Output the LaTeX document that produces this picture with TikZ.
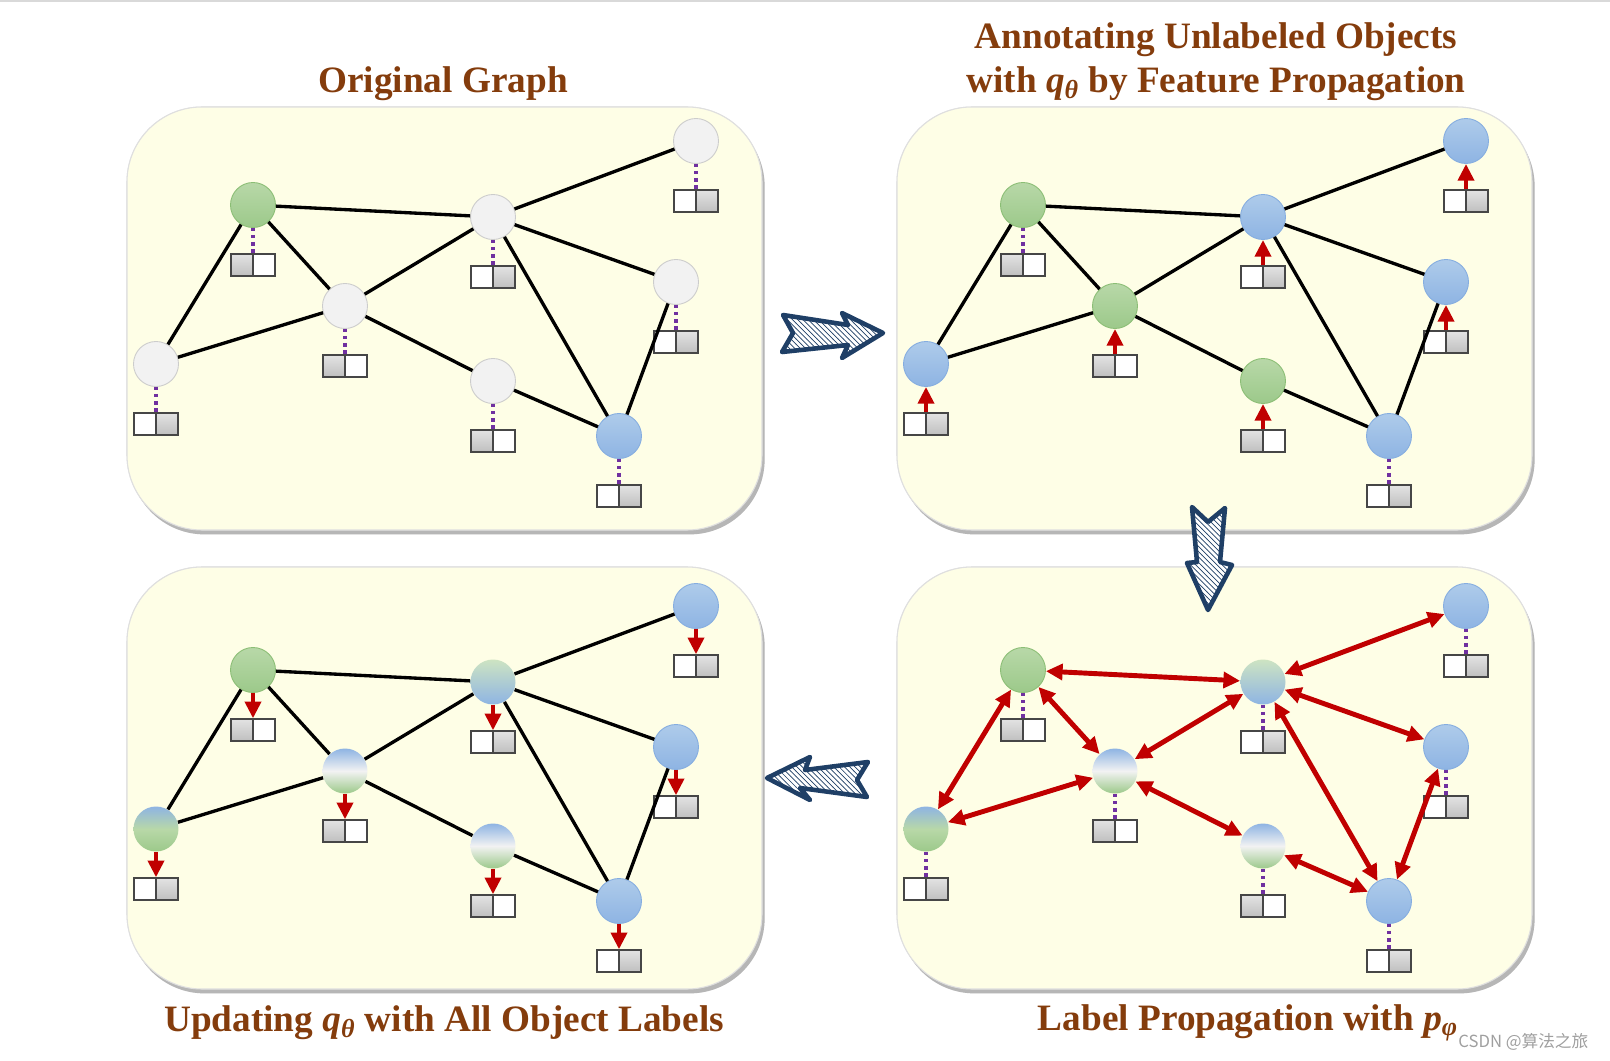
\documentclass[tikz,border=0pt]{standalone}
\usepackage{fontspec}
\setmainfont{Liberation Serif}
\newfontfamily\cjkfont{Noto Sans CJK SC}
\usepackage{tikz}
\usetikzlibrary{arrows.meta,shadows,patterns}

\definecolor{paneyellow}{HTML}{FEFEE6}
\definecolor{titlebrown}{HTML}{843C0C}
\definecolor{navyarrow}{HTML}{1F3F66}
\definecolor{labred}{HTML}{C00000}
\definecolor{dotpurple}{HTML}{7030A0}
\definecolor{grntop}{HTML}{B8D8A8}
\definecolor{grnbot}{HTML}{9CC98A}
\definecolor{grnline}{HTML}{8BBE75}
\definecolor{blutop}{HTML}{AECBEA}
\definecolor{blubot}{HTML}{8EB4E3}
\definecolor{bluline}{HTML}{85ADE0}

\tikzset{
  panel/.style={draw=gray!25, fill=paneyellow, rounded corners=1.5cm, line width=0.6pt,
    drop shadow={shadow xshift=1.5pt, shadow yshift=-2.5pt, opacity=0.35}},
  obj/.style={circle, minimum size=0.9cm, inner sep=0pt, line width=0.5pt},
  grayobj/.style={obj, draw=gray!40, fill=gray!10},
  greenobj/.style={obj, draw=grnline, top color=grntop, bottom color=grnbot},
  blueobj/.style={obj, draw=bluline, top color=blutop, bottom color=blubot},
  mixobj/.style={obj, top color=blubot, bottom color=grnbot, middle color=gray!10},
  skyobj/.style={obj, top color=blubot, bottom color=grnbot, middle color=grntop},
  leafobj/.style={obj, top color=grntop!70!white, bottom color=blubot},
  lbl/.style={minimum width=0.88cm, minimum height=0.44cm, inner sep=0pt,
    draw=gray!55!black, line width=0.8pt, fill=white},
  lblL/.style={lbl, path picture={
    \shade[top color=gray!22, bottom color=gray!50] (path picture bounding box.south west) rectangle (path picture bounding box.north);
    \draw[gray!55!black, line width=0.8pt] (path picture bounding box.south) -- (path picture bounding box.north);}},
  lblR/.style={lbl, path picture={
    \shade[top color=gray!22, bottom color=gray!50] (path picture bounding box.south) rectangle (path picture bounding box.north east);
    \draw[gray!55!black, line width=0.8pt] (path picture bounding box.south) -- (path picture bounding box.north);}},
  graphline/.style={line width=1.9pt},
  tie/.style={dotpurple, line width=2pt, dash pattern=on 2pt off 2pt},
  labarrow/.style={labred, line width=2.8pt, -{Triangle[length=9.5pt,width=9pt]}},
  propag/.style={labred, line width=2.8pt, {Triangle[length=9.5pt,width=9pt]}-{Triangle[length=9.5pt,width=9pt]}},
  bigarrow/.style={draw=navyarrow, line width=2.6pt, line join=round, preaction={fill=white},
    pattern=north west lines, pattern color=navyarrow},
  heading/.style={text=titlebrown, font=\fontsize{21.2}{25}\selectfont\bfseries, align=center},
}

\begin{document}
\begin{tikzpicture}[x=0.02cm,y=-0.02cm]
\useasboundingbox (0,0) rectangle (1610,1061);
\draw[gray!30, line width=1pt] (0,1) -- (1610,1);

\fill[panel] (127,107) rectangle (762,530);
\fill[panel] (897,107) rectangle (1532,530);
\fill[panel] (127,567) rectangle (762,989);
\fill[panel] (897,567) rectangle (1532,989);
\draw[panel] (127,107) rectangle (762,530);
\draw[panel] (897,107) rectangle (1532,530);
\draw[panel] (127,567) rectangle (762,989);
\draw[panel] (897,567) rectangle (1532,989);

\node[heading] (t1) at (443,84) {Original Graph};
\node[heading] (t2) at (1216,62) {Annotating Unlabeled Objects\\with \textit{q}\textsubscript{\textit{θ}} by Feature Propagation};
\node[heading] (t3) at (444,1023) {Updating \textit{q}\textsubscript{\textit{θ}} with All Object Labels};
\node[heading] (t4) at (1248,1023) {Label Propagation with \textit{p}\textsubscript{\textit{φ}}};
\node[text=gray!75, font=\cjkfont\fontsize{9.5}{11}\selectfont, anchor=west, inner sep=0pt] (mark) at (1458,1042) {CSDN @算法之旅};

% original graph
\node[greenobj] (a1) at (253,205) {};
\node[grayobj] (b1) at (493,217) {};
\node[grayobj] (c1) at (696,141) {};
\node[grayobj] (d1) at (345,306) {};
\node[grayobj] (e1) at (676,282) {};
\node[grayobj] (f1) at (156,364) {};
\node[grayobj] (g1) at (493,381) {};
\node[blueobj] (h1) at (619,436) {};
\node[lblL] (a1l) at (253,265) {};
\node[lblR] (b1l) at (493,277) {};
\node[lblR] (c1l) at (696,201) {};
\node[lblL] (d1l) at (345,366) {};
\node[lblR] (e1l) at (676,342) {};
\node[lblR] (f1l) at (156,424) {};
\node[lblL] (g1l) at (493,441) {};
\node[lblR] (h1l) at (619,496) {};
\draw[graphline] (a1) -- (b1) (a1) -- (d1) (a1) -- (f1) (b1) -- (c1) (b1) -- (d1) (b1) -- (e1)
  (b1) -- (h1) (d1) -- (f1) (d1) -- (g1) (g1) -- (h1) (e1) -- (h1);
\draw[tie] (a1) -- (a1l) (b1) -- (b1l) (c1) -- (c1l) (d1) -- (d1l) (e1) -- (e1l) (f1) -- (f1l)
  (g1) -- (g1l) (h1) -- (h1l);

% feature propagation
\begin{scope}[shift={(770,0)}]
\node[greenobj] (a2) at (253,205) {};
\node[blueobj] (b2) at (493,217) {};
\node[blueobj] (c2) at (696,141) {};
\node[greenobj] (d2) at (345,306) {};
\node[blueobj] (e2) at (676,282) {};
\node[blueobj] (f2) at (156,364) {};
\node[greenobj] (g2) at (493,381) {};
\node[blueobj] (h2) at (619,436) {};
\node[lblL] (a2l) at (253,265) {};
\node[lblR] (b2l) at (493,277) {};
\node[lblR] (c2l) at (696,201) {};
\node[lblL] (d2l) at (345,366) {};
\node[lblR] (e2l) at (676,342) {};
\node[lblR] (f2l) at (156,424) {};
\node[lblL] (g2l) at (493,441) {};
\node[lblR] (h2l) at (619,496) {};
\end{scope}
\draw[graphline] (a2) -- (b2) (a2) -- (d2) (a2) -- (f2) (b2) -- (c2) (b2) -- (d2) (b2) -- (e2)
  (b2) -- (h2) (d2) -- (f2) (d2) -- (g2) (g2) -- (h2) (e2) -- (h2);
\draw[tie] (a2) -- (a2l) (h2) -- (h2l);
\draw[labarrow] (b2l) -- (b2);
\draw[labarrow] (c2l) -- (c2);
\draw[labarrow] (d2l) -- (d2);
\draw[labarrow] (e2l) -- (e2);
\draw[labarrow] (f2l) -- (f2);
\draw[labarrow] (g2l) -- (g2);

% updating q
\begin{scope}[shift={(0,465)}]
\node[greenobj] (a3) at (253,205) {};
\node[leafobj] (b3) at (493,217) {};
\node[blueobj] (c3) at (696,141) {};
\node[mixobj] (d3) at (345,306) {};
\node[blueobj] (e3) at (676,282) {};
\node[skyobj] (f3) at (156,364) {};
\node[mixobj] (g3) at (493,381) {};
\node[blueobj] (h3) at (619,436) {};
\node[lblL] (a3l) at (253,265) {};
\node[lblR] (b3l) at (493,277) {};
\node[lblR] (c3l) at (696,201) {};
\node[lblL] (d3l) at (345,366) {};
\node[lblR] (e3l) at (676,342) {};
\node[lblR] (f3l) at (156,424) {};
\node[lblL] (g3l) at (493,441) {};
\node[lblR] (h3l) at (619,496) {};
\end{scope}
\draw[graphline] (a3) -- (b3) (a3) -- (d3) (a3) -- (f3) (b3) -- (c3) (b3) -- (d3) (b3) -- (e3)
  (b3) -- (h3) (d3) -- (f3) (d3) -- (g3) (g3) -- (h3) (e3) -- (h3);
\draw[labarrow] (a3) -- (a3l);
\draw[labarrow] (b3) -- (b3l);
\draw[labarrow] (c3) -- (c3l);
\draw[labarrow] (d3) -- (d3l);
\draw[labarrow] (e3) -- (e3l);
\draw[labarrow] (f3) -- (f3l);
\draw[labarrow] (g3) -- (g3l);
\draw[labarrow] (h3) -- (h3l);

% label propagation
\begin{scope}[shift={(770,465)}]
\node[greenobj] (a4) at (253,205) {};
\node[leafobj] (b4) at (493,217) {};
\node[blueobj] (c4) at (696,141) {};
\node[mixobj] (d4) at (345,306) {};
\node[blueobj] (e4) at (676,282) {};
\node[skyobj] (f4) at (156,364) {};
\node[mixobj] (g4) at (493,381) {};
\node[blueobj] (h4) at (619,436) {};
\node[lblL] (a4l) at (253,265) {};
\node[lblR] (b4l) at (493,277) {};
\node[lblR] (c4l) at (696,201) {};
\node[lblL] (d4l) at (345,366) {};
\node[lblR] (e4l) at (676,342) {};
\node[lblR] (f4l) at (156,424) {};
\node[lblL] (g4l) at (493,441) {};
\node[lblR] (h4l) at (619,496) {};
\end{scope}
\draw[tie] (a4) -- (a4l) (b4) -- (b4l) (c4) -- (c4l) (d4) -- (d4l) (e4) -- (e4l) (f4) -- (f4l)
  (g4) -- (g4l) (h4) -- (h4l);
\draw[propag] (a4) -- (b4);
\draw[propag] (a4) -- (d4);
\draw[propag] (a4) -- (f4);
\draw[propag] (b4) -- (c4);
\draw[propag] (b4) -- (d4);
\draw[propag] (b4) -- (e4);
\draw[propag] (b4) -- (h4);
\draw[propag] (d4) -- (f4);
\draw[propag] (d4) -- (g4);
\draw[propag] (g4) -- (h4);
\draw[propag] (e4) -- (h4);

\draw[bigarrow] (783,315) -- (848,325) -- (842,313) -- (883,333) -- (842,358) -- (848,345) -- (782,352) -- (793,333) -- cycle;
\draw[bigarrow] (1192,507) -- (1208,522) -- (1225,508) -- (1220,562) -- (1232,565) -- (1208,610) -- (1187,563) -- (1197,562) -- cycle;
\draw[bigarrow] (767,778) -- (810,757) -- (805,770) -- (868,762) -- (857,780) -- (867,797) -- (800,788) -- (810,800) -- cycle;
\end{tikzpicture}
\end{document}
